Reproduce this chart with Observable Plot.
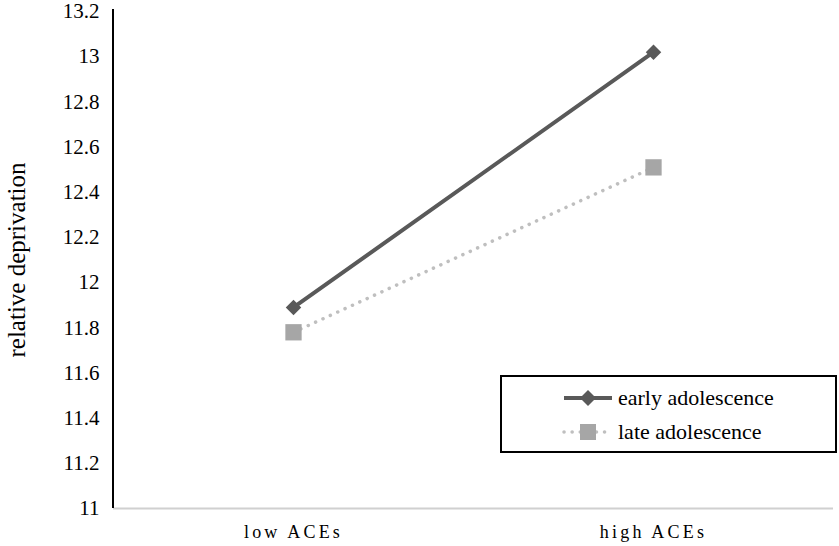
<!DOCTYPE html>
<html>
<head>
<meta charset="utf-8">
<script src="https://cdn.jsdelivr.net/npm/d3@7"></script>
<script src="https://cdn.jsdelivr.net/npm/@observablehq/plot@0.6"></script>
<style>
  body { margin: 0; background: #fff; }
  #wrap { position: relative; width: 839px; height: 546px; font-family: "Liberation Serif", "Times New Roman", serif; }
  #wrap svg, #wrap svg text { font-family: "Liberation Serif", "Times New Roman", serif; }
  #wrap svg [aria-label="x-axis tick label"] text { letter-spacing: 3.2px; }
  #legend { position: absolute; left: 500px; top: 375px; width: 333px; height: 74px; border: 2px solid #000; background: #fff; }
  .row { position: absolute; left: 0; height: 30px; display: flex; align-items: center; }
  .row svg { margin-left: 60px; }
  .row span { margin-left: 4px; font-size: 22px; color: #000; font-family: "Liberation Serif", "Times New Roman", serif; }
</style>
</head>
<body>
<div id="wrap"></div>
<script>
const categories = ["low ACEs", "high ACEs"];
const seriesNames = ["early adolescence", "late adolescence"];
const earlyValues = [11.89, 13.02];
const lateValues = [11.78, 12.51];
const yTicks = [11, 11.2, 11.4, 11.6, 11.8, 12, 12.2, 12.4, 12.6, 12.8, 13, 13.2];

const early = categories.map((c, i) => ({cat: c, value: earlyValues[i]}));
const late = categories.map((c, i) => ({cat: c, value: lateValues[i]}));

const yAxisLine = (index, scales, values, dims) => {
  const g = d3.create("svg:g");
  g.append("line")
    .attr("x1", dims.marginLeft).attr("x2", dims.marginLeft)
    .attr("y1", scales.y(13.2) - 2).attr("y2", scales.y(11))
    .attr("stroke", "#000").attr("stroke-width", 2);
  return g.node();
};

const chart = Plot.plot({
  width: 839,
  height: 546,
  marginLeft: 113,
  marginRight: 6,
  marginTop: 11,
  marginBottom: 38,
  style: {fontFamily: "'Liberation Serif', 'Times New Roman', serif", background: "#fff"},
  x: {type: "point", domain: categories, padding: 0.5},
  y: {domain: [11, 13.2]},
  marks: [
    Plot.ruleY([11], {stroke: "#d0d0d0", strokeWidth: 2}),
    yAxisLine,
    Plot.axisY({ticks: yTicks, tickSize: 0, tickPadding: 14, fontSize: 21, label: null,
      tickFormat: d => String(+d.toFixed(1)), fill: "#000"}),
    Plot.axisX({tickSize: 0, tickPadding: 17, fontSize: 18, label: null, fill: "#000"}),
    Plot.text(["relative deprivation"], {frameAnchor: "left", textAnchor: "middle", dx: -97, rotate: -90, fontSize: 25, fill: "#000"}),
    Plot.line(late, {x: "cat", y: "value", stroke: "#bfbfbf", strokeWidth: 3.5, strokeDasharray: "0.1 8", strokeLinecap: "round"}),
    Plot.line(early, {x: "cat", y: "value", stroke: "#595959", strokeWidth: 4}),
    Plot.dot(late, {x: "cat", y: "value", symbol: "square", r: 9.2, fill: "#a6a6a6", stroke: "none"}),
    Plot.dot(early, {x: "cat", y: "value", symbol: "diamond2", r: 7, fill: "#595959", stroke: "none"})
  ]
});
const wrap = document.getElementById("wrap");
wrap.appendChild(chart);

const legend = document.createElement("div");
legend.id = "legend";
const styles = [
  {color: "#595959", marker: "diamond", dash: null, width: 4},
  {color: "#bfbfbf", marker: "square", dash: "0.1 8", width: 3.5}
];
seriesNames.forEach((name, i) => {
  const s = styles[i];
  const row = document.createElement("div");
  row.className = "row";
  row.style.top = (i === 0 ? 6 : 40) + "px";
  const svg = d3.create("svg").attr("width", 52).attr("height", 24);
  svg.append("line").attr("x1", 2).attr("x2", 50).attr("y1", 12).attr("y2", 12)
    .attr("stroke", s.color).attr("stroke-width", s.width)
    .attr("stroke-dasharray", s.dash).attr("stroke-linecap", s.dash ? "round" : "butt");
  if (s.marker === "diamond") {
    svg.append("path").attr("d", "M26,4 L34,12 L26,20 L18,12 Z").attr("fill", s.color);
  } else {
    svg.append("rect").attr("x", 18).attr("y", 4).attr("width", 16).attr("height", 16).attr("fill", "#a6a6a6");
  }
  row.appendChild(svg.node());
  const sp = document.createElement("span");
  sp.textContent = name;
  row.appendChild(sp);
  legend.appendChild(row);
});
wrap.appendChild(legend);
</script>
</body>
</html>
